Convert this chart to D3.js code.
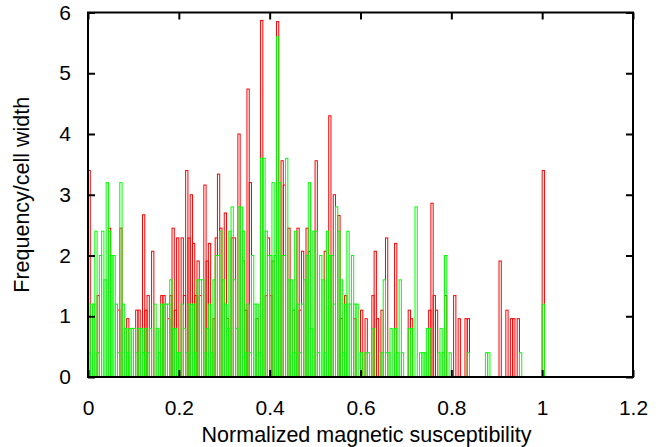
<!DOCTYPE html>
<html lang="en">
<head>
    <meta charset="UTF-8">
    <title>Magnetic susceptibility histogram</title>
    <script src="https://d3js.org/d3.v7.min.js"></script>
    <style>
        body { margin: 0; background: #fff; }
        text { font-family: "Liberation Sans", Arial, sans-serif; fill: #000; }
    </style>
</head>
<body>
    <div id="chart-container"></div>

    <script>
        // bin width of the histogram
        const binWidth = 0.005;

        // frequency / cell width per bin, bin i starts at i*binWidth
        const redValues = [
            3.4, 0, 0, 0, 1.34, 0, 0, 0, 0, 2.45,
            0, 0, 0, 1.1, 2.45, 0, 0, 0.96, 0, 0,
            0, 1.1, 1.1, 0, 2.67, 1.1, 1.34, 0, 2.07, 0,
            0, 0, 1.34, 1.34, 0, 0.96, 1.34, 2.45, 1.1, 2.29,
            0, 2.29, 1.34, 3.4, 2.29, 3.0, 2.2, 1.34, 1.91, 1.34,
            0, 3.16, 1.91, 2.2, 0, 0.96, 2.29, 3.34, 2.45, 0,
            2.7, 0.96, 0, 2.29, 2.29, 0, 4.0, 0, 1.91, 1.1,
            4.74, 3.2, 0, 0, 0.96, 0, 5.87, 0, 1.34, 2.29,
            1.34, 1.91, 0, 5.85, 0, 3.56, 3.16, 0, 2.45, 0,
            1.1, 0, 2.45, 1.1, 2.07, 0, 2.45, 2.07, 0, 0,
            3.56, 0, 0, 0, 2.07, 0, 4.3, 0, 3.0, 0,
            2.66, 0.96, 0, 1.34, 0, 0, 0, 0.96, 0, 0,
            1.1, 0, 0.96, 0, 0, 1.34, 2.07, 0.96, 0, 1.1,
            0, 2.29, 0, 0, 0, 2.2, 0, 0, 0, 0,
            0, 1.1, 0.96, 0, 0, 0, 0, 0, 0, 0,
            1.1, 2.86, 1.34, 1.1, 0, 0, 0, 1.34, 0, 0,
            0, 1.34, 0, 0.96, 0, 0, 0.96, 0.96, 0, 0,
            0, 0, 0, 0, 0, 0, 0, 0, 0, 0,
            0, 1.91, 0, 0, 1.1, 0, 0.96, 0.96, 0, 0.96,
            0, 0, 0, 0, 0, 0, 0, 0, 0, 0,
            3.4
        ];

        const greenValues = [
            0.4, 1.2, 1.2, 2.4, 0.4, 2.0, 2.4, 1.6, 3.2, 2.4,
            2.0, 2.0, 1.2, 0.4, 3.2, 1.2, 0.8, 0.4, 0.8, 0.8,
            0.8, 0.4, 0.8, 0.8, 0.4, 0.8, 0.4, 0.8, 0, 1.2,
            0.8, 0.4, 1.2, 1.2, 1.2, 1.2, 1.6, 0.8, 0.8, 0.4,
            0.4, 1.2, 0.8, 0.4, 1.2, 1.2, 1.2, 0.4, 1.6, 1.6,
            1.6, 0.4, 0.8, 1.2, 0.4, 1.6, 2.0, 2.0, 2.4, 1.6,
            1.2, 0.8, 2.4, 2.8, 1.6, 0.8, 2.8, 2.8, 2.4, 0.4,
            1.2, 0.4, 2.0, 1.2, 1.2, 0.4, 3.6, 3.6, 2.4, 2.0,
            2.0, 3.2, 2.0, 5.6, 3.2, 2.0, 2.0, 3.6, 1.6, 1.6,
            0.4, 2.4, 1.2, 0.4, 1.2, 1.6, 2.0, 3.2, 0.8, 2.4,
            2.4, 0.4, 2.0, 1.6, 0.4, 2.4, 2.0, 2.0, 1.2, 2.8,
            2.4, 1.6, 0.4, 1.2, 2.4, 1.2, 2.0, 1.2, 1.2, 0,
            0.4, 0, 0.4, 0.4, 0, 0.8, 0, 0, 0, 0.4,
            1.6, 0.4, 0.4, 0.8, 0, 0.8, 0.4, 1.6, 0.4, 0,
            0, 0.8, 0.8, 0, 2.8, 0, 0.4, 0.4, 0.4, 0.8,
            0.8, 0, 0, 0, 0.4, 0.8, 0.4, 2.0, 0, 0.4,
            0, 0, 0, 0, 0, 0, 0, 0.4, 0, 0,
            0, 0, 0, 0, 0, 0.4, 0.4, 0, 0, 0,
            0, 0, 0, 0, 0, 0, 0, 0, 0, 0,
            0.4, 0, 0, 0, 0, 0, 0, 0, 0, 0,
            1.2
        ];

        const xTicks = [0, 0.2, 0.4, 0.6, 0.8, 1, 1.2];
        const yTicks = [0, 1, 2, 3, 4, 5, 6];

        const containerWidth = 672;
        const containerHeight = 447;
        const margins = { top: 12.5, right: 39, bottom: 70, left: 88 };
        const width = containerWidth - margins.left - margins.right;
        const height = containerHeight - margins.top - margins.bottom;

        const svg = d3.select("#chart-container")
            .append("svg")
            .attr("width", containerWidth)
            .attr("height", containerHeight)
            .append("g")
            .attr("transform", `translate(${margins.left},${margins.top})`);

        const x = d3.scaleLinear().domain([0, 1.2]).range([0, width]);
        const y = d3.scaleLinear().domain([0, 6]).range([height, 0]);

        // one series of open boxes
        function drawBars(values, colour, cls) {
            const bins = values
                .map((v, i) => ({ x0: i * binWidth, x1: (i + 1) * binWidth, v: v }))
                .filter(d => d.v > 0);
            svg.selectAll("." + cls)
                .data(bins)
                .join("rect")
                .attr("class", cls)
                .attr("x", d => x(d.x0))
                .attr("width", d => x(d.x1) - x(d.x0))
                .attr("y", d => y(d.v))
                .attr("height", d => y(0) - y(d.v))
                .attr("fill", "none")
                .attr("stroke", colour)
                .attr("stroke-width", 1);
        }

        drawBars(redValues, "#ff0000", "bar-red");
        drawBars(greenValues, "#00ff00", "bar-green");

        // axes, ticks pointing inwards like gnuplot
        const tickLen = 7;
        const fmt = d3.format("~g");
        svg.append("g")
            .attr("transform", `translate(0,${height})`)
            .call(d3.axisBottom(x).tickValues(xTicks).tickSize(-tickLen).tickPadding(tickLen + 16)
                .tickFormat(fmt))
            .call(g => g.select(".domain").remove());
        svg.append("g")
            .call(d3.axisTop(x).tickValues(xTicks).tickSize(-tickLen).tickFormat(""))
            .call(g => g.select(".domain").remove());
        svg.append("g")
            .call(d3.axisLeft(y).tickValues(yTicks).tickSize(-tickLen).tickPadding(tickLen + 10)
                .tickFormat(fmt))
            .call(g => g.select(".domain").remove());
        svg.append("g")
            .attr("transform", `translate(${width},0)`)
            .call(d3.axisRight(y).tickValues(yTicks).tickSize(-tickLen).tickFormat(""))
            .call(g => g.select(".domain").remove());

        svg.selectAll(".tick line")
            .attr("stroke", "#000")
            .attr("stroke-width", 2);
        svg.selectAll(".tick text")
            .style("font-size", "21px")
            .attr("fill", "#000");

        // frame
        svg.append("rect")
            .attr("x", 0)
            .attr("y", 0)
            .attr("width", width)
            .attr("height", height)
            .attr("fill", "none")
            .attr("stroke", "#000")
            .attr("stroke-width", 2);

        // axis labels
        svg.append("text")
            .attr("x", width / 2 + 6)
            .attr("y", height + 65)
            .attr("text-anchor", "middle")
            .style("font-size", "21.5px")
            .text("Normalized magnetic susceptibility");

        svg.append("text")
            .attr("transform", "rotate(-90)")
            .attr("x", -height / 2)
            .attr("y", -59)
            .attr("text-anchor", "middle")
            .style("font-size", "21.5px")
            .text("Frequency/cell width");
    </script>
</body>
</html>
